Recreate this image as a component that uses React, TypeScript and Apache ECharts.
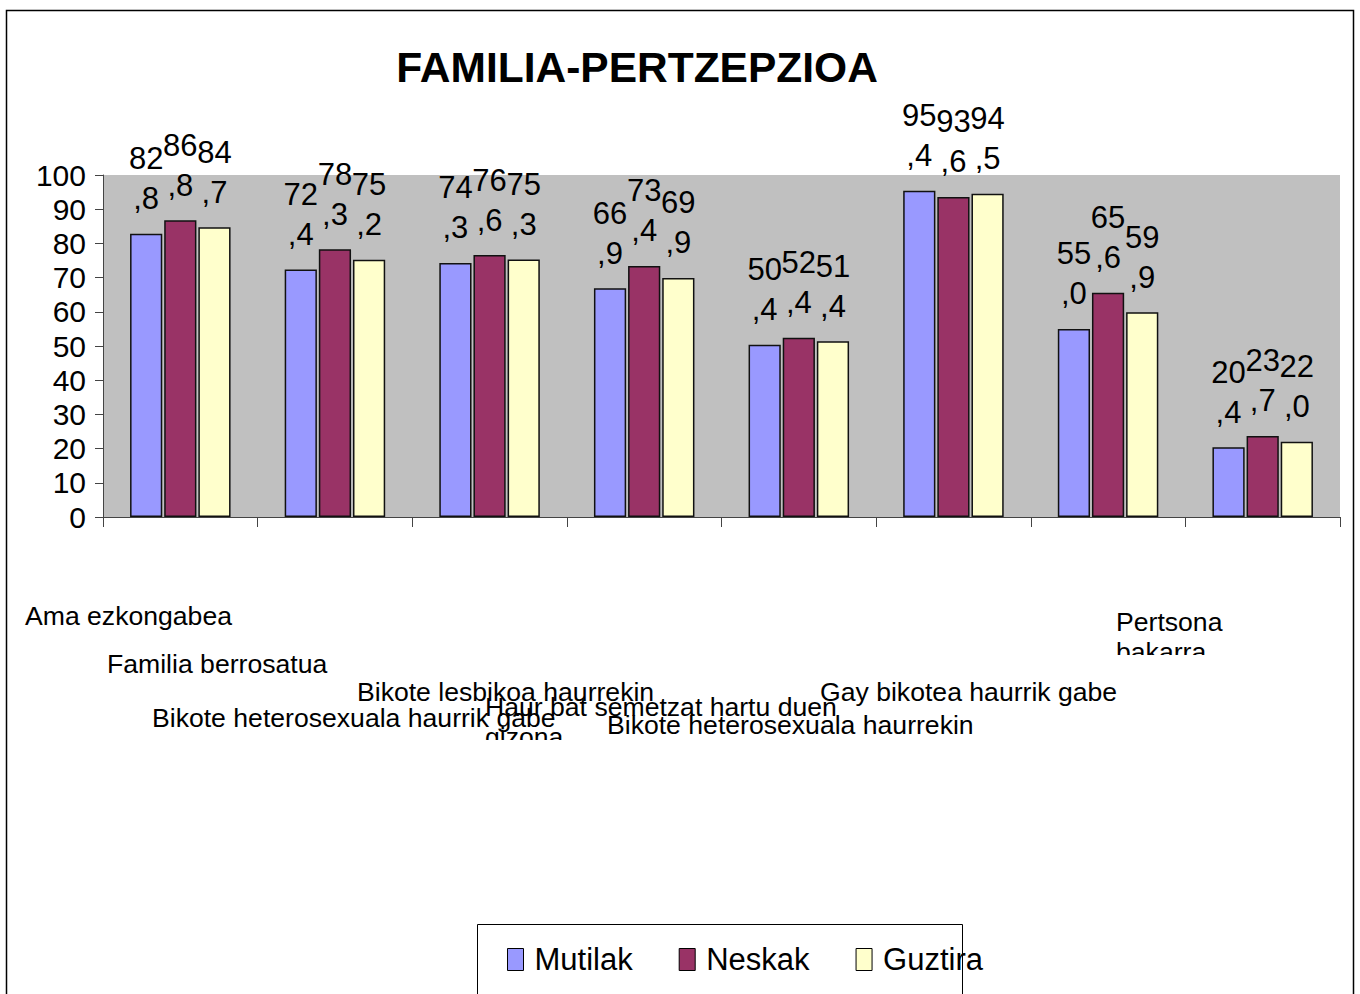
import React, { useEffect, useRef } from "react";
import * as echarts from "echarts";

const TITLE = "FAMILIA-PERTZEPZIOA";
const categories = [
  "Ama ezkongabea",
  "Familia berrosatua",
  "Bikote heterosexuala haurrik gabe",
  "Bikote lesbikoa haurrekin",
  "Haur bat semetzat hartu duen gizona",
  "Bikote heterosexuala haurrekin",
  "Gay bikotea haurrik gabe",
  "Pertsona bakarra",
];
const seriesNames = ["Mutilak", "Neskak", "Guztira"];
const mutilak = [82.8, 72.4, 74.3, 66.9, 50.4, 95.4, 55.0, 20.4];
const neskak = [86.8, 78.3, 76.6, 73.4, 52.4, 93.6, 65.6, 23.7];
const guztira = [84.7, 75.2, 75.3, 69.9, 51.4, 94.5, 59.9, 22.0];
const yTicks = [0, 10, 20, 30, 40, 50, 60, 70, 80, 90, 100];

// layout of the (scattered) category labels: left x, first-line centre y, wrap width, clip bottom
const labelLayout = [
  { x: 25, y: 616, w: 400, clip: 0 },
  { x: 107, y: 664, w: 400, clip: 0 },
  { x: 152, y: 718, w: 500, clip: 0 },
  { x: 357, y: 692, w: 400, clip: 0 },
  { x: 485, y: 707, w: 365, clip: 740 },
  { x: 607, y: 725, w: 420, clip: 0 },
  { x: 820, y: 692, w: 400, clip: 0 },
  { x: 1116, y: 622, w: 114, clip: 655 },
];

const FONT = "'Liberation Sans', Arial, sans-serif";
const colors = ["#9999FF", "#993366", "#FFFFCC"];

export default function App() {
  const ref = useRef<HTMLDivElement>(null);
  useEffect(() => {
    if (!ref.current) return;
    const chart = echarts.init(ref.current, undefined, { renderer: "svg" });
    const fmt = (p: any) => {
      const [i, d] = Number(p.value).toFixed(1).split(".");
      return i + "\n," + d;
    };
    const dataSets = [mutilak, neskak, guztira];
    const graphics: any[] = [
      {
        type: "rect",
        shape: { x: 6.5, y: 10.5, width: 1347, height: 1000 },
        style: { fill: "none", stroke: "#000", lineWidth: 1.5 },
        silent: true,
        z: 0,
      },
      {
        type: "rect",
        shape: { x: 477.5, y: 924.5, width: 485, height: 80 },
        style: { fill: "none", stroke: "#000", lineWidth: 1 },
        silent: true,
        z: 10,
      },
    ];
    categories.forEach((c, idx) => {
      const L = labelLayout[idx];
      graphics.push({
        type: "text",
        x: L.x,
        y: L.y - 15,
        style: {
          text: c,
          fill: "#000",
          fontSize: 26.6,
          fontFamily: FONT,
          lineHeight: 30,
          width: L.w,
          overflow: "break",
          align: "left",
          verticalAlign: "top",
        },
        z: 5,
      });
      if (L.clip) {
        graphics.push({
          type: "rect",
          shape: { x: L.x - 2, y: L.clip, width: L.w, height: 30 },
          style: { fill: "#fff" },
          z: 6,
        });
      }
    });

    chart.setOption({
      animation: false,
      backgroundColor: "#fff",
      textStyle: { fontFamily: FONT },
      title: {
        text: TITLE,
        left: 632,
        textAlign: "center",
        top: 41,
        textStyle: {
          fontSize: 42.5,
          fontWeight: "bold",
          color: "#000",
          fontFamily: FONT,
          lineHeight: 42,
        },
      },
      legend: {
        data: seriesNames,
        left: 507,
        top: 944,
        padding: 0,
        icon: "rect",
        itemWidth: 16,
        itemHeight: 22,
        itemGap: 46,
        itemStyle: { borderColor: "#000", borderWidth: 1 },
        textStyle: { fontSize: 31, color: "#000", fontFamily: FONT, padding: [0, 0, 0, 6] },
      },
      grid: {
        left: 103,
        right: 20,
        top: 175,
        bottom: 477,
        show: true,
        backgroundColor: "#C0C0C0",
        borderWidth: 0,
      },
      xAxis: {
        type: "category",
        data: categories,
        axisLine: { show: true, lineStyle: { color: "#444", width: 1 } },
        axisTick: { show: true, interval: 0, length: 10, alignWithLabel: false, lineStyle: { color: "#444" } },
        axisLabel: { show: false, interval: 0 },
        splitLine: { show: false },
      },
      yAxis: {
        type: "value",
        min: yTicks[0],
        max: yTicks[yTicks.length - 1],
        interval: 10,
        axisLine: { show: true, lineStyle: { color: "#444", width: 1 } },
        axisTick: { show: true, length: 8, lineStyle: { color: "#444" } },
        axisLabel: { fontSize: 30, color: "#000", margin: 17, fontFamily: FONT },
        splitLine: { show: false },
      },
      series: seriesNames.map((name, k) => ({
        name,
        type: "bar",
        data: dataSets[k],
        barGap: "6%",
        barCategoryGap: "35%",
        itemStyle: { color: colors[k], borderColor: "#111", borderWidth: 1.5 },
        label: {
          show: true,
          position: "top",
          distance: 15,
          formatter: fmt,
          fontSize: 31,
          lineHeight: 40,
          color: "#000",
          fontFamily: FONT,
        },
      })),
      graphic: graphics,
    });
    return () => chart.dispose();
  }, []);
  return (
    <div
      ref={ref}
      style={{ position: "fixed", left: 0, top: 0, width: 1360, height: 994 }}
    />
  );
}
